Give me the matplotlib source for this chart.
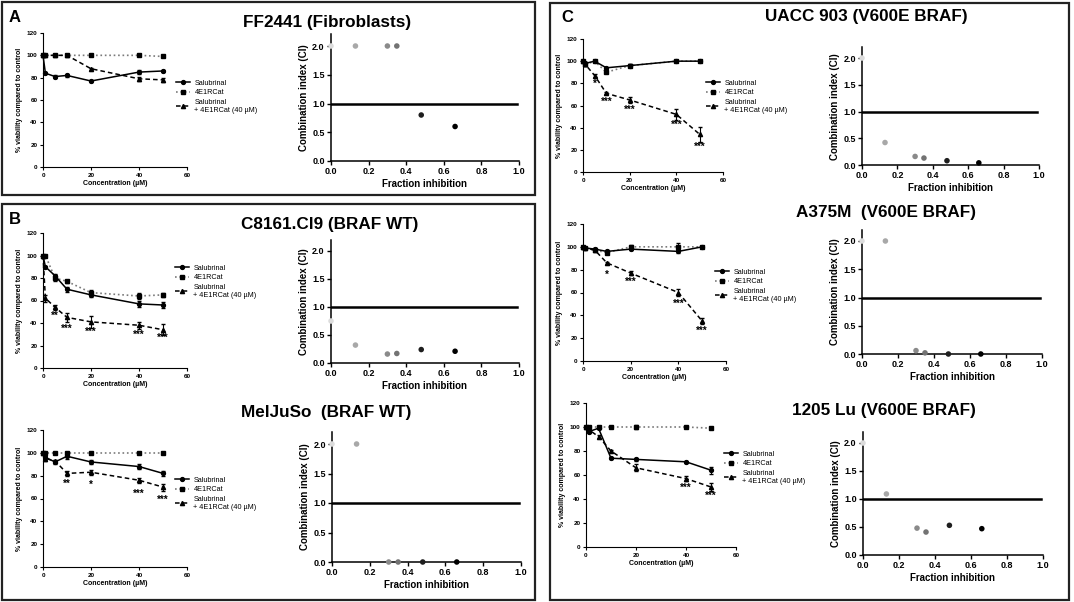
import matplotlib
matplotlib.use("Agg")
import matplotlib.pyplot as plt
from matplotlib.patches import Rectangle
from matplotlib.lines import Line2D

plt.rcParams['font.family'] = ['Liberation Sans', 'DejaVu Sans']

W, H = 1074, 602

# ---------------- data ----------------
conc = [0, 1, 5, 10, 20, 40, 50]
fraction_inhib = [0.0, 0.13, 0.30, 0.35, 0.48, 0.66]
ci_colors = ['#dcdcdc', '#a8a8a8', '#8a8a8a', '#737373', '#1e1e1e', '#000000']

ff_sal = [100, 84, 81, 82, 77, 85, 86]
ff_sal_err = [0, 1, 1, 1, 1, 2, 1]
ff_cat = [100, 100, 100, 100, 100, 100, 99]
ff_cat_err = [0, 0, 0, 0, 0, 0, 0]
ff_combo = [100, 100, 100, 100, 88, 79, 78]
ff_combo_err = [0, 0, 0, 0, 1, 2, 2]
ff_ci = [2.0, 2.0, 2.0, 2.0, 0.8, 0.6]
ff_star_x, ff_star_y, ff_star_txt = [], [], []

c8_sal = [100, 90, 82, 70, 65, 57, 56]
c8_sal_err = [0, 1, 2, 2, 2, 3, 3]
c8_cat = [100, 100, 80, 77, 67, 64, 65]
c8_cat_err = [0, 0, 3, 1, 2, 3, 2]
c8_combo = [100, 62, 54, 45, 41, 38, 34]
c8_combo_err = [0, 3, 2, 4, 5, 3, 5]
c8_ci = [0.75, 0.32, 0.16, 0.17, 0.24, 0.21]
c8_star_x = [5, 10, 20, 40, 50]
c8_star_y = [48, 37, 34, 31.5, 29]
c8_star_txt = ['**', '***', '***', '***', '***']

mj_sal = [100, 96, 92, 97, 92, 88, 82]
mj_sal_err = [0, 2, 2, 2, 2, 2, 2]
mj_cat = [100, 100, 100, 100, 100, 100, 100]
mj_cat_err = [0, 0, 0, 1, 1, 0, 0]
mj_combo = [100, 95, 93, 82, 83, 76, 70]
mj_combo_err = [0, 2, 1, 2, 2, 2, 3]
mj_ci = [2.0, 2.0, 0.0, 0.0, 0.0, 0.0]
mj_star_x = [10, 20, 40, 50]
mj_star_y = [75, 74, 66, 61]
mj_star_txt = ['**', '*', '***', '***']

ua_sal = [100, 98, 100, 94, 96, 100, 100]
ua_sal_err = [0, 1, 1, 1, 1, 1, 1]
ua_cat = [100, 97, 100, 90, 96, 100, 100]
ua_cat_err = [0, 1, 0, 1, 1, 0, 1]
ua_combo = [100, 97, 87, 71, 65, 52, 34]
ua_combo_err = [0, 1, 1, 1, 3, 5, 7]
ua_ci = [2.0, 0.42, 0.16, 0.13, 0.08, 0.04]
ua_star_x = [5, 10, 20, 40, 50]
ua_star_y = [82, 65, 58, 44.5, 25]
ua_star_txt = ['*', '***', '***', '***', '***']

a3_sal = [100, 99, 98, 96, 98, 96, 100]
a3_sal_err = [0, 1, 1, 1, 1, 1, 1]
a3_cat = [100, 99, 97, 95, 100, 100, 100]
a3_cat_err = [0, 0, 1, 1, 2, 3, 1]
a3_combo = [100, 99, 97, 86, 77, 60, 35]
a3_combo_err = [0, 0, 1, 1, 2, 3, 3]
a3_ci = [2.0, 2.0, 0.06, 0.02, 0.0, 0.0]
a3_star_x = [10, 20, 40, 50]
a3_star_y = [77, 71, 52, 28.5]
a3_star_txt = ['*', '***', '***', '***']

lu_sal = [100, 96, 99, 74, 73, 71, 64]
lu_sal_err = [0, 1, 1, 1, 1, 1, 3]
lu_cat = [100, 100, 100, 100, 100, 100, 99]
lu_cat_err = [0, 0, 0, 0, 2, 0, 0]
lu_combo = [100, 98, 92, 80, 66, 57, 50]
lu_combo_err = [0, 1, 1, 1, 3, 2, 3]
lu_ci = [2.0, 1.09, 0.48, 0.41, 0.53, 0.47]
lu_star_x = [40, 50]
lu_star_y = [51, 44]
lu_star_txt = ['***', '***']

fig = plt.figure(figsize=(W / 100, H / 100), dpi=100)

sal_style = dict(color='black', ls='-', lw=1.1, marker='o', ms=2.8)
cat_style = dict(color='#7a7a7a', ls=':', lw=1.2, marker='s', ms=3.3, mfc='black', mec='black')
combo_style = dict(color='black', ls=(0, (3, 2)), lw=1.1, marker='^', ms=3.0)


def px_ax(left, right, top, bottom):
    return fig.add_axes([left / W, 1 - bottom / H, (right - left) / W, (bottom - top) / H])


def viability_plot(box, sal, sal_err, cat, cat_err, combo, combo_err, sx, sy, stxt, leg):
    ax = px_ax(*box)
    ax.errorbar(conc, cat, yerr=cat_err, ecolor='black', elinewidth=0.7, capsize=1.2,
                clip_on=False, zorder=3, **cat_style)
    ax.errorbar(conc, sal, yerr=sal_err, elinewidth=0.7, capsize=1.2, clip_on=False, zorder=4,
                **sal_style)
    ax.errorbar(conc, combo, yerr=combo_err, elinewidth=0.8, capsize=1.5, clip_on=False, zorder=5,
                **combo_style)
    # significance marks (asterisk glyphs sit high in the text box, so hang them from the top)
    for x, y, t in zip(sx, sy, stxt):
        ax.text(x, y + 2.5, t, fontsize=7, fontweight='bold', ha='center', va='top')
    ax.set_xlim(0, 60)
    ax.set_ylim(0, 120)
    ax.set_xticks([0, 20, 40, 60])
    ax.set_yticks([0, 20, 40, 60, 80, 100, 120])
    for s in ['top', 'right']:
        ax.spines[s].set_visible(False)
    for s in ['left', 'bottom']:
        ax.spines[s].set_linewidth(0.8)
    ax.tick_params(length=2.5, width=0.8, pad=1.5, labelsize=4.6)
    for lab in ax.get_xticklabels() + ax.get_yticklabels():
        lab.set_fontweight('bold')
    ax.set_xlabel('Concentration (\u00b5M)', fontsize=5, fontweight='bold', labelpad=2)
    ax.set_ylabel('% viability compared to control', fontsize=5, fontweight='bold', labelpad=3)
    handles = [Line2D([], [], **sal_style), Line2D([], [], **cat_style), Line2D([], [], **combo_style)]
    labels = ['Salubrinal', '4E1RCat', 'Salubrinal\n+ 4E1RCat (40 \u00b5M)']
    ax.legend(handles, labels, loc='upper left',
              bbox_to_anchor=(leg[0] / W, 1 - leg[1] / H), bbox_transform=fig.transFigure,
              fontsize=5.2, frameon=False, borderpad=0, handlelength=2.0, handletextpad=0.6,
              labelspacing=0.35)
    return ax


def ci_plot(left, right, y0, y2, ci):
    top = y0 - 2.2 * (y0 - y2) / 2.0
    ax = px_ax(left, right, top, y0)
    ax.axhline(1.0, xmin=0, xmax=0.99, color='black', lw=1.8)
    ax.scatter(fraction_inhib, ci, s=16, c=ci_colors, zorder=3, clip_on=False, linewidths=0)
    ax.set_xlim(0, 1)
    ax.set_ylim(0, 2.2)
    ax.set_xticks([0, 0.2, 0.4, 0.6, 0.8, 1.0])
    ax.set_yticks([0, 0.5, 1.0, 1.5, 2.0])
    ax.xaxis.set_major_formatter('{x:.1f}')
    ax.yaxis.set_major_formatter('{x:.1f}')
    for s in ['top', 'right']:
        ax.spines[s].set_visible(False)
    for s in ['left', 'bottom']:
        ax.spines[s].set_linewidth(1.1)
    ax.tick_params(length=3, width=1.0, pad=1.5, labelsize=6.5)
    for lab in ax.get_xticklabels() + ax.get_yticklabels():
        lab.set_fontweight('bold')
    ax.set_xlabel('Fraction inhibition', fontsize=7, fontweight='bold', labelpad=2)
    ax.set_ylabel('Combination index (CI)', fontsize=7, fontweight='bold', labelpad=2)
    return ax


# panel A
viability_plot((43, 187, 33, 167), ff_sal, ff_sal_err, ff_cat, ff_cat_err, ff_combo, ff_combo_err,
               ff_star_x, ff_star_y, ff_star_txt, (172, 76))
ci_plot(331, 519, 161, 46, ff_ci)

# panel B
viability_plot((43, 187, 233, 368), c8_sal, c8_sal_err, c8_cat, c8_cat_err, c8_combo, c8_combo_err,
               c8_star_x, c8_star_y, c8_star_txt, (171, 261))
ci_plot(331, 519, 363, 251, c8_ci)

viability_plot((43, 187, 430, 567), mj_sal, mj_sal_err, mj_cat, mj_cat_err, mj_combo, mj_combo_err,
               mj_star_x, mj_star_y, mj_star_txt, (171, 473))
ci_plot(332, 521, 562, 444, mj_ci)

# panel C
viability_plot((583, 723, 39, 172), ua_sal, ua_sal_err, ua_cat, ua_cat_err, ua_combo, ua_combo_err,
               ua_star_x, ua_star_y, ua_star_txt, (702, 76))
ci_plot(862, 1039, 165, 58, ua_ci)

viability_plot((583, 726, 224, 361), a3_sal, a3_sal_err, a3_cat, a3_cat_err, a3_combo, a3_combo_err,
               a3_star_x, a3_star_y, a3_star_txt, (711, 265))
ci_plot(862, 1042, 354, 241, a3_ci)

viability_plot((586, 736, 403, 547), lu_sal, lu_sal_err, lu_cat, lu_cat_err, lu_combo, lu_combo_err,
               lu_star_x, lu_star_y, lu_star_txt, (720, 447))
ci_plot(863, 1043, 555, 443, lu_ci)

# titles
titles = ['FF2441 (Fibroblasts)', 'C8161.Cl9 (BRAF WT)', 'MelJuSo  (BRAF WT)',
          'UACC 903 (V600E BRAF)', 'A375M  (V600E BRAF)', '1205 Lu (V600E BRAF)']
title_pos = [(327, 23), (330, 224), (326, 412), (866, 16), (886, 213), (884, 410)]
for t, (x, y) in zip(titles, title_pos):
    fig.text(x / W, 1 - y / H, t, fontsize=12.3, fontweight='bold', ha='center', va='center')

for letter, (x, y) in zip(['A', 'B', 'C'], [(15, 17), (15, 219), (567, 18)]):
    fig.text(x / W, 1 - y / H, letter, fontsize=12, fontweight='bold', ha='center', va='center')

# panel frames
for (l, t, r, b) in [(2, 2, 535, 195), (2, 204, 535, 600), (550, 3, 1069, 600)]:
    fig.patches.append(Rectangle((l / W, 1 - b / H), (r - l) / W, (b - t) / H, fill=False,
                                 lw=1.6, ec='#222222', transform=fig.transFigure))

fig.savefig('out.png', dpi=100)
